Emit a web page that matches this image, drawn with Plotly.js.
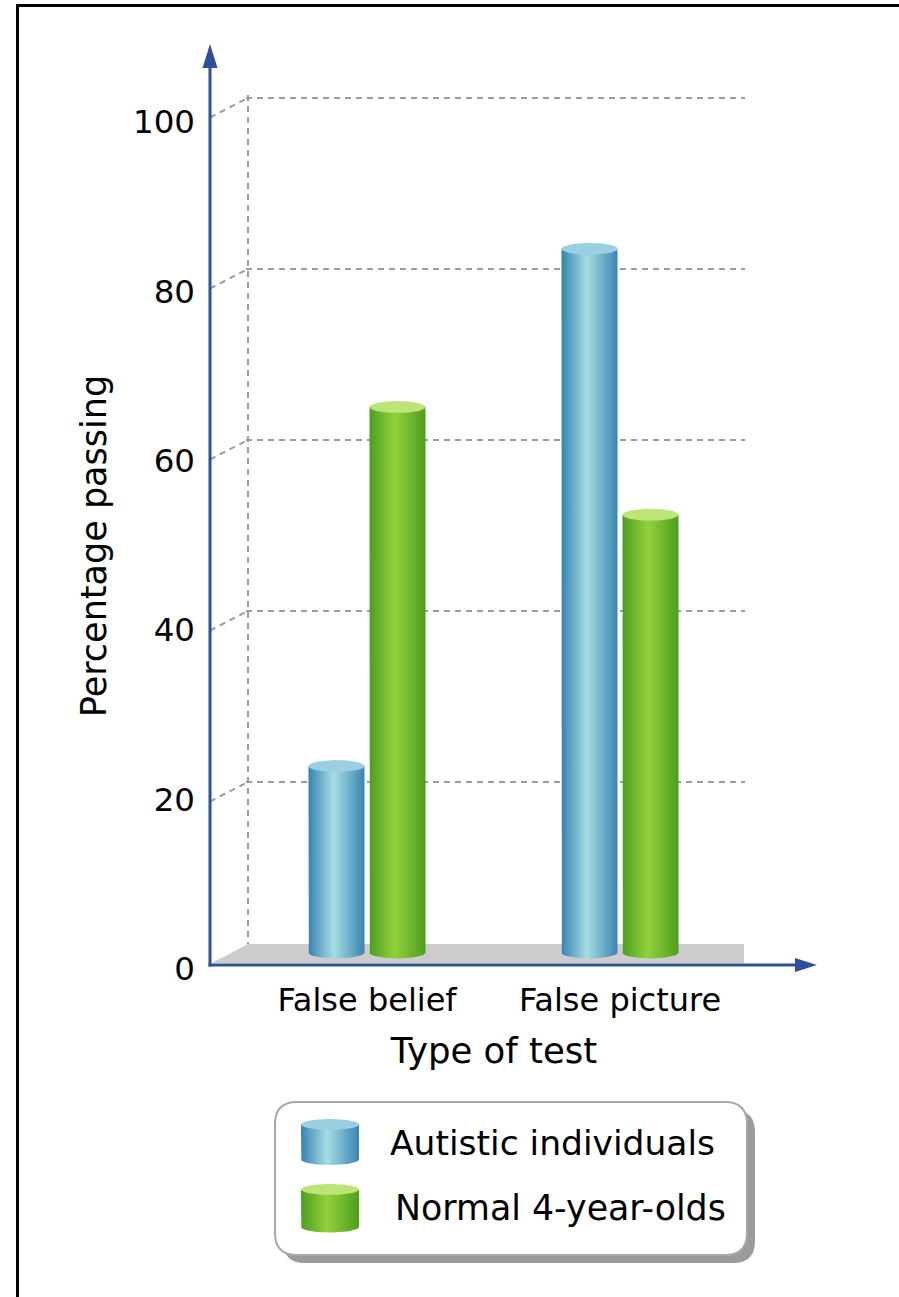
<!DOCTYPE html>
<html>
<head>
<meta charset="utf-8">
<script src="https://cdn.plot.ly/plotly-3.0.1.min.js"></script>
<style>html,body{margin:0;padding:0;background:#fff;}#chart{width:899px;height:1297px;}</style>
</head>
<body>
<div id="chart"></div>
<script>
// ---- data ----
const categories = ['False belief', 'False picture'];
const seriesNames = ['Autistic individuals', 'Normal 4-year-olds'];
const autistic = [23, 83.5];
const normal = [65, 52.4];
const yTicks = [0, 20, 40, 60, 80, 100];
const xTitle = 'Type of test';
const yTitle = 'Percentage passing';

// ---- styles / geometry (pixels) ----
const W = 899, H = 1297;
const FONT = 'DejaVu Sans, Verdana, sans-serif';
const AXIS_BLUE = '#2f5097';
const GRID = '#9c9c9c';
const UX = 253;          // px per category
const UY = 8.55;         // px per percent (back wall / bars)
const UYF = 8.466;       // px per percent for the front tick labels
const DEPTH_X = 38, DEPTH_Y = -19.5;
const FRONT_X0 = 210, FRONT_AXIS_Y = 965, FRONT_ZERO = 968.6;
const BACK_C0 = 386, BACK_ZERO = 953;
const MID_C0 = 367, MID_ZERO = BACK_ZERO + 9.75;
const FLOOR_TOP = 944;
const BAR_BOTTOM_PX = 952.5;              // cylinders stand on the floor slab
const BAR_HALF = 28, BAR_OFF = 30.5, ELL_RY = 6;
const palettes = [
  {edgeL: '#3582b3', light: '#a6dde3', edgeR: '#3a84b2', cap: '#99cfe0'},
  {edgeL: '#4a9f1f', light: '#93d03b', edgeR: '#4d9e1e', cap: '#bce477'}
];

const fx = p => p / W;
const fy = p => 1 - p / H;
function xr(d0, d1, c) { return [(d0 - c) / UX, (d1 - c) / UX]; }
function yr(top, bottom, zero, u) { return [(zero - bottom) / u, (zero - top) / u]; }

const seriesVals = [autistic, normal];
const traces = [];

// empty traces so that every subplot exists
traces.push({type: 'scatter', x: [], y: [], xaxis: 'x', yaxis: 'y', showlegend: false, hoverinfo: 'skip'});
traces.push({type: 'scatter', x: [], y: [], xaxis: 'x2', yaxis: 'y2', showlegend: false, hoverinfo: 'skip'});

// cylinders on the mid-depth axes
const BASE = (MID_ZERO - BAR_BOTTOM_PX) / UY;
function cylinder(cx, base, v, rx, ry, pal, name, xa, ya, sgn) {
  const n = 40;
  const bx = [cx - rx, cx - rx], by = [v, base];
  for (let k = 0; k <= n; k++) {
    const t = Math.PI + Math.PI * k / n;
    bx.push(cx + rx * Math.cos(t)); by.push(base + sgn * ry * Math.sin(t));
  }
  bx.push(cx + rx, cx - rx); by.push(v, v);
  const capx = [], capy = [];
  for (let k = 0; k <= 2 * n; k++) {
    const t = 2 * Math.PI * k / (2 * n);
    capx.push(cx + rx * Math.cos(t)); capy.push(v + ry * Math.sin(t));
  }
  return [
    {type: 'scatter', mode: 'lines', x: bx, y: by, xaxis: xa, yaxis: ya, fill: 'toself',
     line: {width: 0, color: 'rgba(0,0,0,0)'},
     fillgradient: {type: 'horizontal', colorscale: [[0, pal.edgeL], [0.45, pal.light], [1, pal.edgeR]]},
     showlegend: false, name: name, hoveron: 'fills', hoverinfo: name ? 'name' : 'skip'},
    {type: 'scatter', mode: 'lines', x: capx, y: capy, xaxis: xa, yaxis: ya, fill: 'toself',
     fillcolor: pal.cap, line: {width: 0, color: 'rgba(0,0,0,0)'},
     showlegend: false, hoverinfo: 'skip'}
  ];
}

seriesVals.forEach((vals, s) => {
  vals.forEach((v, i) => {
    const cx = i + (s === 0 ? -1 : 1) * BAR_OFF / UX;
    traces.push(...cylinder(cx, BASE, v, BAR_HALF / UX, ELL_RY / UY, palettes[s],
      seriesNames[s] + ' – ' + categories[i] + ': ' + v + '%', 'x3', 'y3', 1));
  });
});

// legend icons on a pixel-mapped overlay axis (y reversed)
const LEG = {x0: 275, y0: 1102, x1: 747, y1: 1255, r: 22, shadow: 8};
const icons = [{cx: 330, top: 1124.5, bottom: 1159.5}, {cx: 330, top: 1189.5, bottom: 1227}];
icons.forEach((ic, s) => {
  traces.push(...cylinder(ic.cx, ic.bottom, ic.top, 29, 5.5, palettes[s], '', 'x4', 'y4', -1));
});

// ---- shapes ----
const shapes = [];
function P(x, y) { return fx(x) + ',' + fy(y); }
function roundRect(x0, y0, x1, y1, r) {
  return 'M ' + P(x0 + r, y0) + ' L ' + P(x1 - r, y0) + ' Q ' + P(x1, y0) + ' ' + P(x1, y0 + r) +
    ' L ' + P(x1, y1 - r) + ' Q ' + P(x1, y1) + ' ' + P(x1 - r, y1) +
    ' L ' + P(x0 + r, y1) + ' Q ' + P(x0, y1) + ' ' + P(x0, y1 - r) +
    ' L ' + P(x0, y0 + r) + ' Q ' + P(x0, y0) + ' ' + P(x0 + r, y0) + ' Z';
}
// outer frame
shapes.push({type: 'line', xref: 'paper', yref: 'paper', x0: fx(16), y0: fy(5.5), x1: fx(899), y1: fy(5.5), line: {color: '#000', width: 3}});
shapes.push({type: 'line', xref: 'paper', yref: 'paper', x0: fx(17.5), y0: fy(4), x1: fx(17.5), y1: fy(1297), line: {color: '#000', width: 3}});
// floor slab
const floorRight = 744;
shapes.push({type: 'path', xref: 'paper', yref: 'paper', layer: 'below',
  path: 'M ' + P(FRONT_X0 + 2, FRONT_AXIS_Y - 2) + ' L ' + P(FRONT_X0 + DEPTH_X, FLOOR_TOP) +
        ' L ' + P(floorRight, FLOOR_TOP) + ' L ' + P(floorRight, FRONT_AXIS_Y - 2) + ' Z',
  fillcolor: '#cccccc', line: {width: 0}});
// diagonal connectors front -> back wall
yTicks.filter(v => v > 0).forEach(v => {
  const yb = BACK_ZERO - UY * v;
  shapes.push({type: 'line', xref: 'paper', yref: 'paper', layer: 'below',
    x0: fx(FRONT_X0), y0: fy(yb - DEPTH_Y), x1: fx(FRONT_X0 + DEPTH_X), y1: fy(yb),
    line: {color: GRID, width: 2, dash: '6px,5px'}});
});
// axis lines with arrowheads
shapes.push({type: 'line', xref: 'paper', yref: 'paper', x0: fx(FRONT_X0), y0: fy(FRONT_AXIS_Y + 1.5), x1: fx(FRONT_X0), y1: fy(60), line: {color: AXIS_BLUE, width: 3}});
shapes.push({type: 'path', xref: 'paper', yref: 'paper', path: 'M ' + P(FRONT_X0, 44) + ' L ' + P(FRONT_X0 + 7.5, 68) + ' L ' + P(FRONT_X0 - 7.5, 68) + ' Z', fillcolor: AXIS_BLUE, line: {width: 0}});
shapes.push({type: 'line', xref: 'paper', yref: 'paper', x0: fx(FRONT_X0 - 1.5), y0: fy(FRONT_AXIS_Y), x1: fx(800), y1: fy(FRONT_AXIS_Y), line: {color: AXIS_BLUE, width: 3}});
shapes.push({type: 'path', xref: 'paper', yref: 'paper', path: 'M ' + P(817, FRONT_AXIS_Y) + ' L ' + P(795, FRONT_AXIS_Y - 7) + ' L ' + P(795, FRONT_AXIS_Y + 7) + ' Z', fillcolor: AXIS_BLUE, line: {width: 0}});
// legend box + shadow
shapes.push({type: 'path', xref: 'paper', yref: 'paper', layer: 'below', path: roundRect(LEG.x0 + LEG.shadow, LEG.y0 + LEG.shadow, LEG.x1 + LEG.shadow, LEG.y1 + LEG.shadow, LEG.r), fillcolor: '#9b9b9b', line: {width: 0}});
shapes.push({type: 'path', xref: 'paper', yref: 'paper', layer: 'below', path: roundRect(LEG.x0, LEG.y0, LEG.x1, LEG.y1, LEG.r), fillcolor: '#ffffff', line: {color: '#a8a8a8', width: 2}});

// ---- legend labels ----
const annotations = [
  {xref: 'paper', yref: 'paper', x: fx(388), y: fy(1143), xanchor: 'left', yanchor: 'middle', text: seriesNames[0], showarrow: false, font: {family: FONT, size: 34.5, color: '#000'}},
  {xref: 'paper', yref: 'paper', x: fx(393), y: fy(1208), xanchor: 'left', yanchor: 'middle', text: seriesNames[1], showarrow: false, font: {family: FONT, size: 34.8, color: '#000'}}
];

// ---- axes ----
const frontXDom = [210, 778], frontYDom = [100, 992];
const layout = {
  width: W, height: H,
  margin: {l: 0, r: 0, t: 0, b: 0},
  paper_bgcolor: '#ffffff', plot_bgcolor: 'rgba(0,0,0,0)',
  showlegend: false,
  font: {family: FONT, color: '#000'},
  xaxis: {domain: [fx(frontXDom[0]), fx(frontXDom[1])], range: xr(frontXDom[0], frontXDom[1], 348),
    anchor: 'y', showgrid: false, zeroline: false, showline: false, showticklabels: false, ticks: '',
    title: {text: xTitle, font: {family: FONT, size: 35.5, color: '#000'}, standoff: 46}, fixedrange: true},
  yaxis: {domain: [fy(frontYDom[1]), fy(frontYDom[0])], range: yr(frontYDom[0], frontYDom[1], FRONT_ZERO, UYF),
    anchor: 'x', showgrid: false, zeroline: false, showline: false, ticks: '', tickmode: 'array',
    tickvals: yTicks, ticktext: yTicks.map(String), ticklabelstandoff: 14,
    tickfont: {family: FONT, size: 32.5, color: '#000'},
    title: {text: yTitle, font: {family: FONT, size: 35, color: '#000'}, standoff: 15}, fixedrange: true},
  xaxis2: {domain: [fx(246), fx(745)], range: xr(246, 745, BACK_C0), anchor: 'y2',
    tickmode: 'array', tickvals: [(FRONT_X0 + DEPTH_X - BACK_C0) / UX], showticklabels: false, ticks: '',
    showgrid: true, gridcolor: GRID, gridwidth: 2, griddash: '6px,5px', zeroline: false, showline: false, fixedrange: true},
  yaxis2: {domain: [fy(FLOOR_TOP), fy(95)], range: yr(95, FLOOR_TOP, BACK_ZERO, UY), anchor: 'x2',
    tickmode: 'array', tickvals: yTicks.filter(v => v > 0), showticklabels: false, ticks: '',
    showgrid: true, gridcolor: GRID, gridwidth: 2, griddash: '6px,5px', zeroline: false, showline: false, fixedrange: true},
  xaxis3: {domain: [fx(215), fx(800)], range: xr(215, 800, MID_C0), anchor: 'y3',
    tickmode: 'array', tickvals: categories.map((c, i) => i), ticktext: categories, ticks: '',
    tickfont: {family: FONT, size: 32, color: '#000'}, ticklabelstandoff: 3,
    showgrid: false, zeroline: false, showline: false, fixedrange: true},
  yaxis3: {domain: [fy(975), fy(40)], range: yr(40, 975, MID_ZERO, UY), anchor: 'x3',
    showticklabels: false, ticks: '', showgrid: false, zeroline: false, showline: false, fixedrange: true},
  xaxis4: {domain: [0, 1], range: [0, W], anchor: 'y4', visible: false, fixedrange: true},
  yaxis4: {domain: [0, 1], range: [H, 0], anchor: 'x4', visible: false, fixedrange: true},
  shapes: shapes,
  annotations: annotations
};

Plotly.newPlot('chart', traces, layout, {displayModeBar: false, staticPlot: true});
</script>
</body>
</html>
